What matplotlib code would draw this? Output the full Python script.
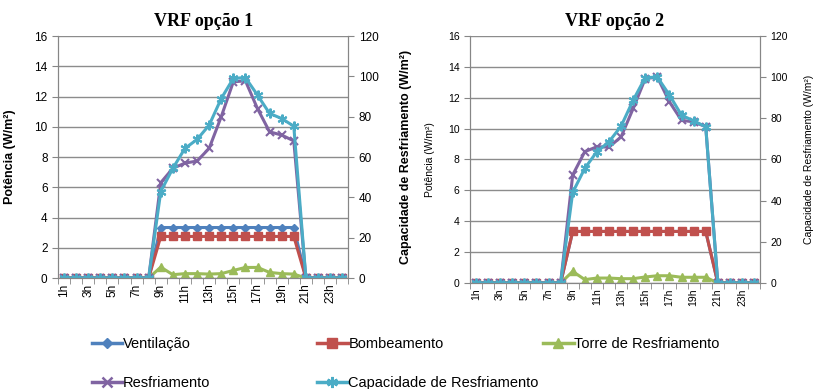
import matplotlib
matplotlib.use("Agg")
import matplotlib.pyplot as plt
from matplotlib.lines import Line2D

# dados
horas = ["1h", "2h", "3h", "4h", "5h", "6h", "7h", "8h", "9h", "10h", "11h", "12h",
         "13h", "14h", "15h", "16h", "17h", "18h", "19h", "20h", "21h", "22h", "23h", "24h"]

# VRF opção 1 (eixo esquerdo, W/m²)
vent_1 = [0, 0, 0, 0, 0, 0, 0, 0, 3.34, 3.34, 3.34, 3.34, 3.34, 3.34, 3.34, 3.34,
          3.34, 3.34, 3.34, 3.34, 0, 0, 0, 0]
bomb_1 = [0, 0, 0, 0, 0, 0, 0, 0, 2.75, 2.75, 2.75, 2.75, 2.75, 2.75, 2.75, 2.75,
          2.75, 2.75, 2.75, 2.75, 0, 0, 0, 0]
torre_1 = [0, 0, 0, 0, 0, 0, 0, 0, 0.72, 0.22, 0.29, 0.29, 0.26, 0.29, 0.5, 0.7,
           0.7, 0.37, 0.29, 0.26, 0, 0, 0, 0]
# VRF opção 1 (eixo direito, W/m²)
resf_1 = [0, 0, 0, 0, 0, 0, 0, 0, 47.3, 54.4, 57.0, 58.0, 64.3, 80.0, 97.3, 97.8,
          84.0, 72.5, 70.9, 68.0, 0, 0, 0, 0]
cap_1 = [0, 0, 0, 0, 0, 0, 0, 0, 42.9, 54.4, 64.3, 68.7, 75.8, 89.0, 99.0, 99.4,
         90.7, 81.6, 79.1, 75.3, 0, 0, 0, 0]

# VRF opção 2
vent_2 = [0, 0, 0, 0, 0, 0, 0, 0, 3.34, 3.34, 3.34, 3.34, 3.34, 3.34, 3.34, 3.34,
          3.34, 3.34, 3.34, 3.34, 0, 0, 0, 0]
bomb_2 = [0, 0, 0, 0, 0, 0, 0, 0, 3.34, 3.34, 3.34, 3.34, 3.34, 3.34, 3.34, 3.34,
          3.34, 3.34, 3.34, 3.34, 0, 0, 0, 0]
torre_2 = [0, 0, 0, 0, 0, 0, 0, 0, 0.75, 0.22, 0.32, 0.32, 0.28, 0.28, 0.39, 0.47,
           0.47, 0.37, 0.37, 0.37, 0, 0, 0, 0]
resf_2 = [0, 0, 0, 0, 0, 0, 0, 0, 52.5, 63.8, 66.2, 66.0, 71.0, 84.8, 99.3, 100.0,
          88.0, 79.0, 78.3, 75.9, 0, 0, 0, 0]
cap_2 = [0, 0, 0, 0, 0, 0, 0, 0, 44.0, 55.7, 63.8, 68.6, 76.2, 88.8, 99.8, 100.0,
         91.3, 81.5, 78.8, 75.9, 0, 0, 0, 0]

cores = {"vent": "#4F81BD", "bomb": "#C0504D", "torre": "#9BBB59",
         "resf": "#8064A2", "cap": "#4BACC6"}
ast = (6, 2, 0)

plt.rcParams['font.family'] = ['Liberation Sans', 'DejaVu Sans']

fig = plt.figure(figsize=(8.13, 3.89), dpi=100)


def desenha(pos, titulo, vent, bomb, torre, resf, cap, tsize, lsize, lbold, lx, rx):
    ax = fig.add_axes(pos)
    ax2 = ax.twinx()
    x = list(range(len(horas)))
    lw = 2.2
    ax.plot(x, vent, color=cores["vent"], lw=lw, marker="D", ms=4.5)
    ax.plot(x, bomb, color=cores["bomb"], lw=lw, marker="s", ms=5.5)
    ax.plot(x, torre, color=cores["torre"], lw=lw, marker="^", ms=5.5)
    ax2.plot(x, resf, color=cores["resf"], lw=lw, marker="x", ms=6, mew=1.5)
    ax2.plot(x, cap, color=cores["cap"], lw=lw, marker=ast, ms=7, mew=1.5)

    ax.set_ylim(0, 16)
    ax2.set_ylim(0, 120)
    ax.set_yticks(range(0, 17, 2))
    ax2.set_yticks(range(0, 121, 20))
    ax.set_xlim(-0.5, 23.5)
    ax.set_xticks(x)
    ax.set_xticklabels([h if i % 2 == 0 else "" for i, h in enumerate(horas)],
                       rotation=90, fontsize=tsize)
    ax.set_xticks([i - 0.5 for i in range(25)], minor=True)
    ax.tick_params(axis="x", which="major", length=0, pad=4)
    ax.tick_params(axis="x", which="minor", length=4, color="#868686")
    ax.tick_params(axis="y", labelsize=tsize, length=4, color="#868686")
    ax2.tick_params(axis="y", labelsize=tsize, length=4, color="#868686")
    ax.grid(axis="y", color="#8c8c8c", lw=1)
    ax.set_axisbelow(True)
    for a in (ax, ax2):
        a.spines["top"].set_visible(False)
        for s in ("left", "right", "bottom"):
            a.spines[s].set_color("#868686")
    fw = "bold" if lbold else "normal"
    ax.set_ylabel("Potência (W/m²)", fontsize=lsize, fontweight=fw)
    ax2.set_ylabel("Capacidade de Resfriamento (W/m²)", fontsize=lsize, fontweight=fw)
    ax.yaxis.set_label_coords(lx, 0.5)
    ax2.yaxis.set_label_coords(rx, 0.5)
    ax.set_title(titulo, fontsize=13, fontweight="bold",
                 family="Liberation Serif", pad=7)


desenha([0.0713, 0.2853, 0.357, 0.622], "VRF opção 1", vent_1, bomb_1, torre_1,
        resf_1, cap_1, 8.5, 9, True, -0.145, 1.18)
desenha([0.578, 0.2725, 0.357, 0.635], "VRF opção 2", vent_2, bomb_2, torre_2,
        resf_2, cap_2, 7.5, 7.5, False, -0.12, 1.152)

# legenda
h_vent = Line2D([], [], color=cores["vent"], lw=2.5, marker="D", ms=5)
h_bomb = Line2D([], [], color=cores["bomb"], lw=2.5, marker="s", ms=7)
h_torre = Line2D([], [], color=cores["torre"], lw=2.5, marker="^", ms=7)
h_resf = Line2D([], [], color=cores["resf"], lw=2.5, marker="x", ms=7, mew=1.8)
h_cap = Line2D([], [], color=cores["cap"], lw=2.5, marker=ast, ms=8, mew=1.8)

kw = dict(frameon=False, fontsize=10.5, handlelength=2.1, handletextpad=0.05,
          labelspacing=1.72, loc="upper left", borderpad=0, borderaxespad=0)
fig.legend([h_vent, h_resf], ["Ventilação", "Resfriamento"],
           bbox_to_anchor=(0.113, 0.133), **kw)
fig.legend([h_bomb, h_cap], ["Bombeamento", "Capacidade de Resfriamento"],
           bbox_to_anchor=(0.390, 0.133), **kw)
fig.legend([h_torre], ["Torre de Resfriamento"],
           bbox_to_anchor=(0.668, 0.133), **kw)

fig.savefig("out.png", dpi=100)
